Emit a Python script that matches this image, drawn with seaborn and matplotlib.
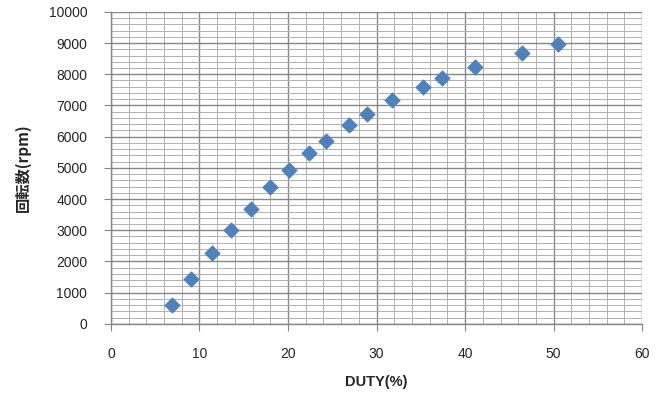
import numpy as np
import pandas as pd
import matplotlib
matplotlib.use('Agg')
import matplotlib.pyplot as plt
import seaborn as sns
from matplotlib.ticker import MultipleLocator

duty = [6.9, 9.0, 11.4, 13.6, 15.8, 18.0, 20.1, 22.4, 24.3, 26.9, 28.9,
        31.8, 35.3, 37.4, 41.1, 46.4, 50.5]
rpm = [600, 1450, 2280, 3010, 3680, 4390, 4940, 5480, 5860, 6380, 6730,
       7180, 7600, 7880, 8230, 8680, 8970]

df = pd.DataFrame({'duty': duty, 'rpm': rpm})

sns.set_style('white')
plt.rcParams['font.family'] = ['Liberation Sans', 'Noto Sans CJK JP', 'DejaVu Sans']

fig = plt.figure(figsize=(6.6, 3.94), dpi=100)
ax = fig.add_axes([0.168, 0.178, 0.805, 0.792])

sns.scatterplot(data=df, x='duty', y='rpm', ax=ax, marker='D', s=62,
                color='#4F81BD', edgecolor='#4F81BD', linewidth=0.5, zorder=3)

ax.set_xlim(0, 60)
ax.set_ylim(0, 10000)
ax.xaxis.set_major_locator(MultipleLocator(10))
ax.xaxis.set_minor_locator(MultipleLocator(2))
ax.yaxis.set_major_locator(MultipleLocator(1000))
ax.yaxis.set_minor_locator(MultipleLocator(200))
ax.grid(which='major', color='#878787', linewidth=1.0)
ax.grid(which='minor', color='#b0b0b0', linewidth=0.7)
ax.set_axisbelow(True)

for side in ['top', 'right']:
    ax.spines[side].set_visible(False)
for side in ['left', 'bottom']:
    ax.spines[side].set_color('#868686')
    ax.spines[side].set_linewidth(1.0)

ax.tick_params(which='major', direction='out', length=5, color='#868686',
               labelsize=10, bottom=True, left=True)
ax.tick_params(axis='y', which='major', pad=12)
ax.tick_params(axis='x', which='major', pad=12)
ax.tick_params(which='minor', length=0)

ax.set_xlabel('DUTY(%)', fontsize=10.5, fontweight='bold', labelpad=10)
ax.set_ylabel('回転数(rpm)', fontsize=11, fontweight='bold', labelpad=13,
              family=['Noto Sans CJK JP', 'DejaVu Sans'])

plt.savefig('out.png', dpi=100)
